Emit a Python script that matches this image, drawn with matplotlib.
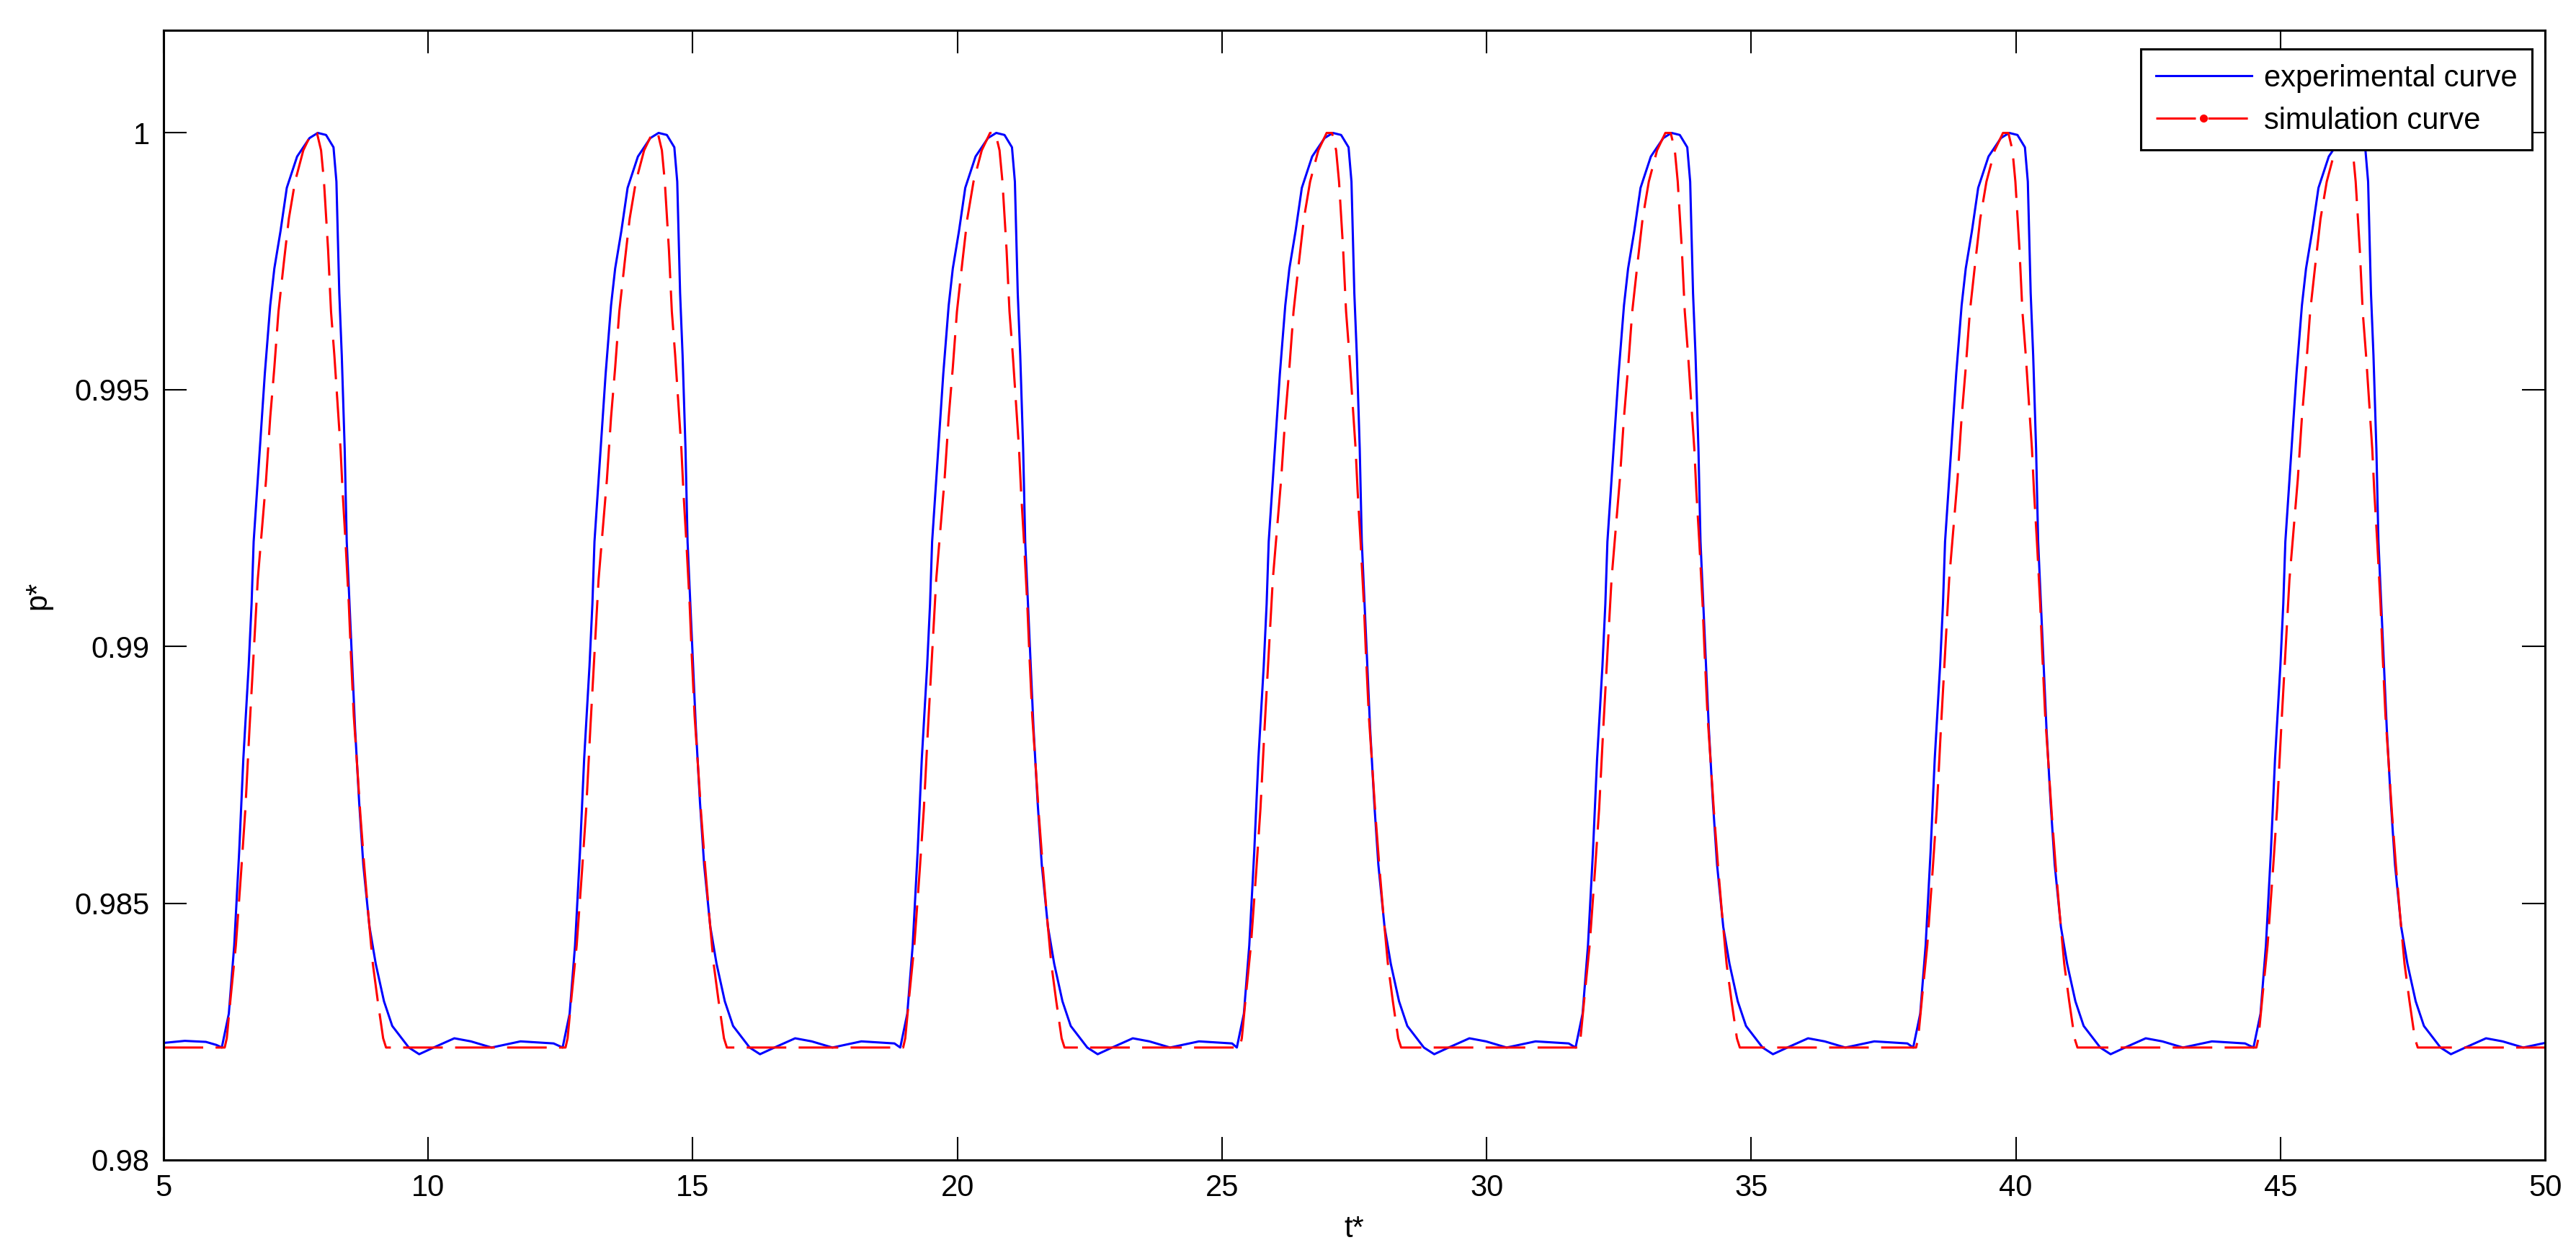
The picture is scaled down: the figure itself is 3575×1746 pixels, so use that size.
import numpy as np
import matplotlib as mpl
import matplotlib.pyplot as plt
from matplotlib.lines import Line2D

mpl.rcParams['font.family'] = ['Liberation Sans', 'DejaVu Sans']
mpl.rcParams.update({'font.size': 30})

onsets = [6.10, 12.54, 18.92, 25.28, 31.68, 38.06, 44.49]

# experimental curve, one pulse, time measured from the onset
blue_dt = [0.0, 0.133, 0.235, 0.328, 0.407, 0.508, 0.563, 0.602, 0.680, 0.758,
           0.813, 0.915, 0.993, 1.110, 1.228, 1.423, 1.658, 1.814, 1.970, 2.111,
           2.166, 2.220, 2.267, 2.322, 2.361, 2.439, 2.518, 2.596, 2.674, 2.791,
           2.909, 3.065, 3.221, 3.534, 3.730, 4.003, 4.394, 4.707, 5.098, 5.645, 6.27]
blue_p = [0.98219, 0.98285, 0.98418, 0.98599, 0.98781, 0.98962, 0.99083, 0.99204, 0.99325, 0.99446,
          0.99531, 0.99664, 0.99736, 0.99809, 0.99893, 0.99954, 0.99990, 1.00000, 0.99996, 0.99972,
          0.99905, 0.99688, 0.99567, 0.99385, 0.99204, 0.99023, 0.98841, 0.98696, 0.98575, 0.98454,
          0.98382, 0.98309, 0.98261, 0.98219, 0.98206, 0.98219, 0.98237, 0.98231, 0.98219, 0.98231, 0.98227]

# simulation curve, one pulse, same time origin
red_dt = [0.055, 0.094, 0.172, 0.266, 0.367, 0.446, 0.524, 0.602, 0.680, 0.758,
          0.837, 0.915, 0.993, 1.071, 1.173, 1.267, 1.384, 1.540, 1.697, 1.798,
          1.876, 1.931, 2.009, 2.064, 2.127, 2.181, 2.244, 2.283, 2.338, 2.400,
          2.439, 2.494, 2.557, 2.619, 2.690, 2.768, 2.854, 2.948, 3.049, 3.104]
red_p = [0.98219, 0.98237, 0.98321, 0.98418, 0.98563, 0.98684, 0.98841, 0.98986, 0.99131, 0.99228,
         0.99325, 0.99446, 0.99543, 0.99652, 0.99748, 0.99833, 0.99905, 0.99966, 1.00000, 1.00000,
         0.99966, 0.99905, 0.99772, 0.99652, 0.99567, 0.99482, 0.99385, 0.99301, 0.99204, 0.99083,
         0.98986, 0.98865, 0.98769, 0.98672, 0.98575, 0.98479, 0.98382, 0.98309, 0.98237, 0.98219]

# baseline before the first pulse
lead_t = [5.0, 5.4, 5.8, 6.0]
lead_p = [0.98228, 0.98232, 0.98230, 0.98224]
base_p = 0.98219

t_end = 50.0

# build full series
bt, bp = list(lead_t), list(lead_p)
rt, rp = [5.0], [base_p]
for k, o in enumerate(onsets):
    nxt = onsets[k + 1] if k + 1 < len(onsets) else t_end + 1
    for d, p in zip(blue_dt, blue_p):
        if o + d < nxt:
            bt.append(o + d)
            bp.append(p)
    for d, p in zip(red_dt, red_p):
        rt.append(o + d)
        rp.append(p)
rt.append(t_end)
rp.append(base_p)

fig = plt.figure(figsize=(35.75, 17.46), dpi=100)
ax = fig.add_axes([0.0635, 0.0779, 0.9245, 0.8981])

ax.plot(bt, bp, color='b', lw=2.2)
ax.plot(rt, rp, color='r', lw=2.2, dashes=(18, 5.6))

ax.set_xlim(5, 50)
ax.set_ylim(0.98, 1.002)
ax.set_xticks(np.arange(5, 51, 5))
ax.set_yticks([0.98, 0.985, 0.99, 0.995, 1.0])
ax.set_yticklabels(['0.98', '0.985', '0.99', '0.995', '1'])

for s in ax.spines.values():
    s.set_linewidth(2.2)
ax.tick_params(direction='in', length=23, width=1.5, top=True, right=True, pad=14)

ax.set_xlabel('t*', labelpad=12)
ax.set_ylabel('p*', labelpad=22)

handles = [Line2D([], [], color='b', lw=2.2),
           Line2D([], [], color='r', lw=2.2, dashes=(18, 5.6), marker='o', markersize=7)]
leg = ax.legend(handles, ['experimental curve', 'simulation curve'],
                loc='upper right', bbox_to_anchor=(0.9946, 0.9834), borderaxespad=0,
                fancybox=False, framealpha=1, edgecolor='k', handlelength=3.2,
                handletextpad=0.4, borderpad=0.5, labelspacing=0.45, numpoints=1)
leg.get_frame().set_linewidth(2.2)

plt.savefig('out.png', dpi=100)
